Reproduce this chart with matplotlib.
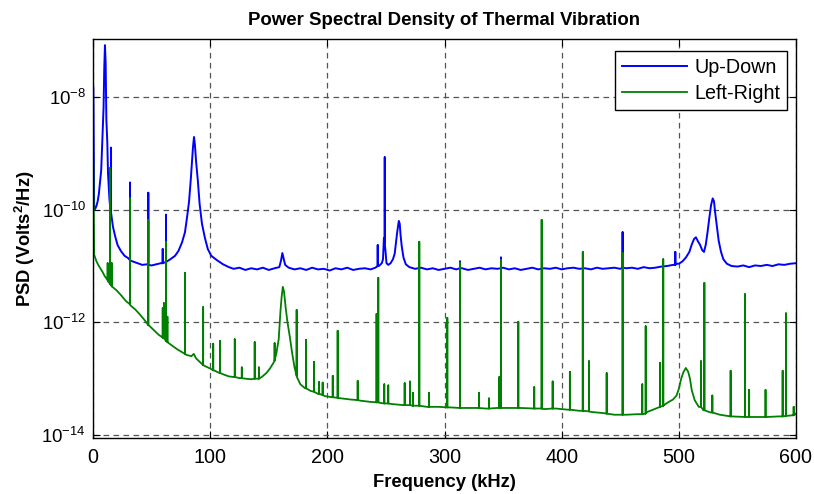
import numpy as np
import matplotlib
matplotlib.use("Agg")
import matplotlib.pyplot as plt
from matplotlib.ticker import LogFormatterMathtext, NullLocator, FixedLocator

plt.rcParams['font.family'] = ['Liberation Sans', 'DejaVu Sans']
plt.rcParams['mathtext.fontset'] = 'custom'
plt.rcParams['mathtext.rm'] = 'Liberation Sans'
plt.rcParams['mathtext.bf'] = 'Liberation Sans:bold'
plt.rcParams['mathtext.it'] = 'Liberation Sans:italic'

# ---------------- data (log10 of PSD, Volts^2/Hz) ----------------
# Up-Down: continuous trace (freq kHz, log10 PSD)
updown_freq = [0.3, 1.0, 2.0, 3.0, 4.0, 5.0, 6.0, 7.0, 8.0, 9.0, 9.6, 10.2, 10.8, 11.4, 12.2, 12.8,
               14.0, 15.0, 17.0, 19.0, 21.0, 24.0, 27.0, 30.0, 34.0, 38.0, 42.0, 46.0, 50.0, 54.0,
               58.0, 62.0, 66.0, 70.0, 73.0, 76.0, 78.5, 80.5, 82.0, 83.5, 84.5, 85.3, 86.2, 87.0,
               88.0, 89.5, 91.0, 93.0, 95.5, 98.0, 101.0, 106.0, 111.0, 116.0, 120.0, 125.0, 130.0,
               135.0, 140.0, 145.0, 150.0, 155.0, 159.0, 160.5, 161.6, 162.5, 164.0, 167.0, 172.0,
               177.0, 182.0, 187.0, 192.0, 197.0, 202.0, 207.0, 212.0, 217.0, 222.0, 227.0, 232.0,
               237.0, 241.0, 244.0, 246.5, 247.5, 248.3, 248.8, 249.7, 250.5, 252.0, 254.0, 256.0,
               257.5, 258.5, 259.5, 260.3, 261.0, 261.8, 262.5, 263.5, 265.0, 267.0, 270.0, 275.0,
               280.0, 285.0, 290.0, 295.0, 300.0, 305.0, 310.0, 315.0, 320.0, 325.0, 330.0, 335.0,
               340.0, 345.0, 350.0, 355.0, 360.0, 365.0, 370.0, 375.0, 380.0, 385.0, 390.0, 395.0,
               400.0, 405.0, 410.0, 415.0, 420.0, 425.0, 430.0, 435.0, 440.0, 445.0, 450.0, 455.0,
               460.0, 465.0, 470.0, 475.0, 480.0, 485.0, 490.0, 495.0, 498.0, 500.0, 503.0, 506.0,
               509.0, 511.0, 513.0, 514.6, 516.0, 518.0, 520.0, 521.5, 523.0, 524.5, 526.0, 527.5,
               528.9, 530.0, 531.0, 532.5, 534.0, 536.0, 538.0, 541.0, 545.0, 550.0, 555.0, 560.0,
               565.0, 570.0, 575.0, 580.0, 585.0, 590.0, 595.0, 600.0]
updown_log = [-7.84, -10.00, -9.98, -9.93, -9.85, -9.72, -9.50, -9.30, -8.73, -8.20, -7.50, -7.08, -7.40, -8.40, -8.80, -9.35,
              -9.80, -10.05, -10.30, -10.48, -10.63, -10.74, -10.82, -10.86, -10.92, -10.95, -10.98, -10.97, -10.99, -10.97,
              -10.95, -10.93, -10.88, -10.82, -10.73, -10.58, -10.40, -10.10, -9.85, -9.45, -9.15, -8.90, -8.71, -8.85,
              -9.15, -9.49, -9.90, -10.25, -10.50, -10.70, -10.82, -10.90, -10.97, -11.02, -11.05, -11.03, -11.07,
              -11.04, -11.06, -11.03, -11.07, -11.04, -11.02, -10.90, -10.77, -10.85, -10.98, -11.03, -11.06,
              -11.04, -11.07, -11.03, -11.06, -11.05, -11.08, -11.04, -11.06, -11.03, -11.07, -11.05, -11.04,
              -11.06, -11.03, -11.00, -10.95, -10.88, -10.50, -10.60, -10.75, -10.95, -10.98, -10.95, -10.88,
              -10.78, -10.60, -10.42, -10.30, -10.20, -10.25, -10.45, -10.65, -10.85, -10.97, -11.02, -11.05,
              -11.03, -11.06, -11.04, -11.07, -11.05, -11.03, -11.06, -11.04, -11.07, -11.05, -11.03, -11.06,
              -11.04, -11.05, -11.03, -11.06, -11.04, -11.07, -11.05, -11.03, -11.06, -11.04, -11.05, -11.03,
              -11.06, -11.04, -11.03, -11.05, -11.04, -11.06, -11.03, -11.05, -11.04, -11.03, -11.05, -11.04,
              -11.03, -11.05, -11.02, -11.04, -11.03, -11.01, -11.00, -10.98, -10.96, -10.96, -10.92, -10.85,
              -10.75, -10.62, -10.52, -10.49, -10.55, -10.62, -10.72, -10.75, -10.62, -10.40, -10.15, -9.92,
              -9.80, -9.85, -10.05, -10.30, -10.55, -10.75, -10.88, -10.96, -11.00, -11.01, -10.99, -11.02,
              -10.99, -11.00, -10.98, -11.00, -10.97, -10.98, -10.96, -10.95]

# Up-Down narrow lines: frequency, peak, floor under the line
updown_spike_freq = [15.4, 31.6, 47.2, 59.5, 62.3, 243.0, 249.0, 313.2, 348.2, 452.0, 497.0]
updown_spike_top = [-8.90, -9.52, -9.70, -10.70, -10.09, -10.63, -9.07, -10.92, -10.85, -10.40, -10.75]
updown_spike_base = [-10.05, -10.90, -10.98, -10.95, -10.93, -11.00, -10.60, -11.04, -11.04, -11.03, -10.98]

# Left-Right: continuous trace
leftright_freq = [0.3, 1.0, 3.0, 5.0, 8.0, 10.0, 13.0, 16.0, 20.0, 24.0, 28.0, 32.0, 36.0, 40.0, 44.0,
                  48.0, 52.0, 56.0, 60.0, 64.0, 68.0, 72.0, 76.0, 80.0, 84.0, 86.0, 88.0, 92.0, 96.0,
                  100.0, 104.0, 108.0, 112.0, 116.0, 120.0, 125.0, 130.0, 135.0, 140.0, 144.0, 148.0,
                  151.0, 154.0, 156.5, 158.5, 160.0, 161.0, 162.0, 163.0, 164.5, 166.0, 168.0, 170.0,
                  172.0, 174.0, 177.0, 181.0, 186.0, 192.0, 198.0, 205.0, 212.0, 220.0, 228.0, 236.0,
                  245.0, 255.0, 265.0, 275.0, 285.0, 295.0, 305.0, 315.0, 325.0, 335.0, 345.0, 355.0,
                  365.0, 375.0, 385.0, 395.0, 405.0, 415.0, 425.0, 435.0, 445.0, 455.0, 465.0, 472.0,
                  478.0, 484.0, 490.0, 495.0, 498.0, 500.0, 502.0, 504.0, 506.0, 508.0, 509.5, 511.0,
                  513.5, 517.0, 521.0, 527.0, 535.0, 545.0, 555.0, 565.0, 575.0, 585.0, 592.0, 597.0, 600.0]
leftright_log = [-9.15, -10.80, -10.92, -11.00, -11.10, -11.18, -11.28, -11.35, -11.43, -11.52, -11.62, -11.70, -11.77, -11.86, -11.96,
                 -12.06, -12.14, -12.22, -12.28, -12.36, -12.42, -12.48, -12.53, -12.58, -12.60, -12.56, -12.64, -12.72, -12.78,
                 -12.82, -12.86, -12.90, -12.93, -12.96, -12.97, -12.99, -13.00, -13.01, -13.00, -12.97, -12.90,
                 -12.82, -12.72, -12.55, -12.30, -11.80, -11.55, -11.37, -11.45, -11.75, -12.00, -12.26, -12.55,
                 -12.80, -12.97, -13.10, -13.17, -13.22, -13.27, -13.31, -13.33, -13.35, -13.37, -13.39, -13.41,
                 -13.43, -13.45, -13.47, -13.48, -13.50, -13.50, -13.51, -13.52, -13.52, -13.53, -13.52, -13.52,
                 -13.52, -13.53, -13.54, -13.53, -13.55, -13.57, -13.59, -13.61, -13.64, -13.64, -13.63, -13.60,
                 -13.55, -13.50, -13.43, -13.37, -13.30, -13.18, -13.00, -12.88, -12.81, -12.88, -13.00, -13.20,
                 -13.38, -13.50, -13.56, -13.60, -13.64, -13.67, -13.68, -13.68, -13.68, -13.67, -13.66, -13.65, -13.62]

# Left-Right narrow lines
leftright_spike_freq = [12.5, 13.5, 14.5, 16.0, 31.6, 47.2, 59.5, 60.5, 62.3, 63.5, 78.5, 94.0, 102.6,
                        108.5, 121.0, 127.0, 138.0, 141.6, 155.0, 173.8, 181.8, 188.6, 193.0, 196.0,
                        204.6, 208.8, 225.9, 242.0, 243.5, 248.6, 252.0, 266.0, 270.5, 273.0, 278.5,
                        286.8, 302.4, 313.2, 329.4, 338.0, 346.8, 348.2, 363.0, 376.6, 382.9, 392.3,
                        407.0, 418.0, 423.3, 438.4, 452.0, 468.8, 471.7, 484.0, 486.7, 518.9, 521.8,
                        528.6, 544.2, 556.5, 560.0, 574.0, 588.6, 591.4, 598.0]
leftright_spike_top = [-10.95, -11.00, -9.26, -10.95, -9.80, -10.18, -11.75, -11.66, -10.57, -11.90, -11.12, -11.73, -12.38,
                       -12.33, -12.30, -12.80, -12.35, -12.80, -12.37, -11.78, -12.31, -12.70, -13.06, -13.07,
                       -12.95, -12.15, -13.04, -11.85, -11.21, -13.10, -13.12, -13.08, -13.05, -13.25, -10.57,
                       -13.25, -11.92, -10.95, -13.25, -13.35, -12.97, -10.89, -11.99, -13.15, -10.18, -13.05,
                       -12.88, -10.75, -12.69, -12.90, -10.77, -13.10, -12.07, -12.72, -10.88, -12.69, -11.30,
                       -13.30, -12.86, -11.50, -13.20, -13.20, -12.86, -11.84, -13.50]
leftright_spike_base = [-11.25, -11.28, -11.32, -11.36, -11.68, -12.05, -12.27, -12.28, -12.33, -12.35, -12.56, -12.76, -12.85,
                        -12.90, -12.97, -12.99, -13.00, -13.00, -12.68, -12.95, -13.17, -13.23, -13.27, -13.29,
                        -13.33, -13.34, -13.38, -13.42, -13.42, -13.44, -13.44, -13.47, -13.47, -13.48, -13.48,
                        -13.50, -13.51, -13.52, -13.52, -13.53, -13.52, -13.52, -13.52, -13.53, -13.53, -13.53,
                        -13.55, -13.57, -13.58, -13.62, -13.64, -13.63, -13.62, -13.50, -13.48, -13.50, -13.56,
                        -13.60, -13.67, -13.68, -13.68, -13.68, -13.67, -13.66, -13.65]

x_ticks = [0, 100, 200, 300, 400, 500, 600]
y_ticks = [1e-14, 1e-12, 1e-10, 1e-8]


def build(freq, logv, sfreq, stop, sbase):
    f = np.concatenate([np.asarray(freq, float), np.repeat(np.asarray(sfreq, float), 3)])
    trip = np.column_stack([sbase, stop, sbase]).ravel()
    v = np.concatenate([np.asarray(logv, float), trip])
    order = np.argsort(f, kind='stable')
    return f[order], 10.0 ** v[order]


fu, pu = build(updown_freq, updown_log, updown_spike_freq, updown_spike_top, updown_spike_base)
fl, pl = build(leftright_freq, leftright_log, leftright_spike_freq, leftright_spike_top, leftright_spike_base)

fig = plt.figure(figsize=(8.14, 4.94), dpi=100)
ax = fig.add_axes([93 / 814, 1 - 438 / 494, (796 - 93) / 814, (438 - 39) / 494])

ax.plot(fu, pu, color='#0000ff', lw=1.4, label='Up-Down')
ax.plot(fl, pl, color='#008000', lw=1.3, label='Left-Right')

ax.set_yscale('log')
ax.set_xlim(0, 600)
ax.set_ylim(8.85e-15, 1.07e-7)
ax.xaxis.set_major_locator(FixedLocator(x_ticks))
ax.yaxis.set_major_locator(FixedLocator(y_ticks))
ax.yaxis.set_minor_locator(NullLocator())
ax.yaxis.set_major_formatter(LogFormatterMathtext())
ax.tick_params(direction='in', length=5, width=0.8, labelsize=14.2, pad=7,
               top=True, right=True, colors='black')
ax.tick_params(axis='y', pad=5, labelsize=13.4)

ax.grid(True, which='major', color='#555555', linestyle=(0, (4.5, 3.5)), linewidth=0.9)
for s in ax.spines.values():
    s.set_linewidth(1.0)

ax.set_title('Power Spectral Density of Thermal Vibration', fontsize=13.4, fontweight='bold', pad=10)
ax.set_xlabel('Frequency (kHz)', fontsize=13.2, fontweight='bold', labelpad=5)
ax.set_ylabel(r'PSD (Volts$^{\mathbf{2}}$/Hz)', fontsize=13.2, fontweight='bold')
ax.yaxis.set_label_coords(-(93 - 37) / 703, 0.5)

leg = ax.legend(loc='upper right', bbox_to_anchor=((787 - 93) / 703, (438 - 51) / 399),
                borderaxespad=0, fontsize=14.2, handlelength=3.3, handletextpad=0.35,
                borderpad=0.35, labelspacing=0.35,
                fancybox=False, framealpha=1, edgecolor='black')
leg.get_frame().set_linewidth(1.0)

fig.savefig('out.png', dpi=100)
